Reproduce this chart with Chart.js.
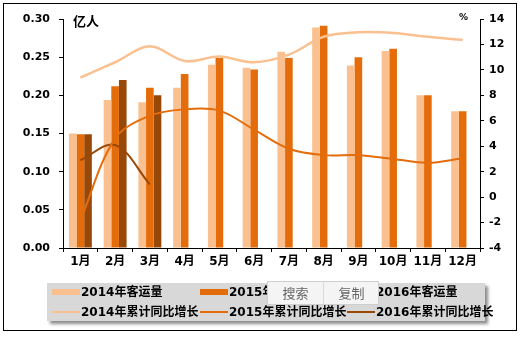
<!DOCTYPE html>
<html>
<head>
<meta charset="utf-8">
<script src="https://cdn.jsdelivr.net/npm/chart.js@4"></script>
<style>
  body { margin: 0; background: #fff; }
  #wrap { position: relative; width: 522px; height: 339px; }
  .legend { position: absolute; left: 47px; top: 283px; width: 438px; height: 38px;
            background: #d8d8d8; box-shadow: 3px 3px 3px rgba(0,0,0,0.45); }
  .item { position: absolute; height: 18px; font: bold 12px 'DejaVu Sans', 'Noto Sans CJK SC', sans-serif;
          color: #000; white-space: nowrap; line-height: 18px; }
  .item span.sw { position: absolute; left: 0; top: 50%; width: 28px; }
  .item span.tx { position: absolute; left: 29px; top: 0; }
  .popup { position: absolute; left: 267px; top: 281px; width: 110px; height: 22px;
           background: #f4f4f4; border: 1px solid #cfcfcf; font: 13px 'Noto Sans CJK SC', sans-serif; color: #666; }
  .popup div { position: absolute; top: 0; height: 22px; line-height: 22px; text-align: center; width: 55px; }
</style>
</head>
<body>
<div id="wrap">
  <canvas id="c" width="522" height="339"></canvas>
  <div class="legend" id="legend"></div>
  <div class="popup">
    <div style="left:0">搜索</div>
    <div style="left:55px;border-left:1px solid #d8d8d8">复制</div>
  </div>
</div>
<script>
const months = ['1月', '2月', '3月', '4月', '5月', '6月', '7月', '8月', '9月', '10月', '11月', '12月'];

// passenger volume, 100 million people (left axis)
const pax2014 = [0.150, 0.194, 0.191, 0.210, 0.240, 0.236, 0.257, 0.289, 0.239, 0.258, 0.200, 0.179];
const pax2015 = [0.149, 0.212, 0.210, 0.228, 0.249, 0.234, 0.249, 0.291, 0.250, 0.261, 0.200, 0.179];
const pax2016 = [0.149, 0.220, 0.200, null, null, null, null, null, null, null, null, null];

// cumulative YoY growth, % (right axis)
const growth2014 = [9.4, 10.6, 11.85, 10.7, 11.05, 10.6, 11.2, 12.6, 12.95, 12.9, 12.6, 12.35];
const growth2015 = [-1.8, 4.6, 6.4, 6.9, 6.8, 5.3, 3.8, 3.3, 3.3, 3.0, 2.7, 3.05];
const growth2016 = [2.9, 4.1, 1.0, null, null, null, null, null, null, null, null, null];

const LIGHT = '#FAC090', ORANGE = '#E46C0A', BROWN = '#984807';
const FONT = "'DejaVu Sans', 'Noto Sans CJK SC', sans-serif";

function bar(label, data, color) {
  return { type: 'bar', label: label, data: data, backgroundColor: color, yAxisID: 'y',
           categoryPercentage: 0.66, barPercentage: 1.0, order: 1 };
}
function line(label, data, color, w) {
  return { type: 'line', label: label, data: data, borderColor: color, backgroundColor: color,
           borderWidth: w, pointRadius: 0, tension: 0.35, yAxisID: 'y1', order: 0, fill: false };
}

const datasets = [
  bar('2014年客运量', pax2014, LIGHT),
  bar('2015年客运量', pax2015, ORANGE),
  bar('2016年客运量', pax2016, BROWN),
  line('2014年累计同比增长', growth2014, LIGHT, 2.5),
  line('2015年累计同比增长', growth2015, ORANGE, 2),
  line('2016年累计同比增长', growth2016, BROWN, 2)
];

const frame = {
  id: 'frame',
  afterDraw(chart) {
    const ctx = chart.ctx;
    ctx.save();
    ctx.strokeStyle = '#000';
    ctx.lineWidth = 1;
    ctx.strokeRect(3.5, 3.5, 513, 327);
    ctx.fillStyle = '#000';
    ctx.font = "bold 13px 'Noto Sans CJK SC', sans-serif";
    ctx.textBaseline = 'middle';
    ctx.fillText('亿人', 73, 21);
    ctx.font = "bold 9px " + FONT;
    ctx.fillText('%', 459, 18);
    ctx.restore();
  }
};

new Chart(document.getElementById('c'), {
  data: { labels: months, datasets: datasets },
  plugins: [frame],
  options: {
    responsive: false,
    animation: false,
    layout: { padding: { top: 19, left: 0, right: 0, bottom: 0 } },
    plugins: { legend: { display: false }, tooltip: { enabled: false } },
    scales: {
      x: {
        afterFit: s => { s.height = 91; },
        grid: { offset: true, drawOnChartArea: false, tickLength: 4, color: '#000' },
        border: { color: '#000' },
        ticks: { color: '#000', padding: 3, font: { family: FONT, size: 12, weight: 'bold' } }
      },
      y: {
        position: 'left', min: 0, max: 0.3,
        afterFit: s => { s.width = 63; },
        grid: { drawOnChartArea: false, tickLength: 4, color: '#000' },
        border: { color: '#000' },
        ticks: { stepSize: 0.05, color: '#000', padding: 9, callback: v => v.toFixed(2),
                 font: { family: FONT, size: 11, weight: 'bold' } }
      },
      y1: {
        position: 'right', min: -4, max: 14,
        afterFit: s => { s.width = 42; },
        grid: { drawOnChartArea: false, tickLength: 4, color: '#000' },
        border: { color: '#000' },
        ticks: { stepSize: 2, color: '#000', padding: 5,
                 font: { family: FONT, size: 11, weight: 'bold' } }
      }
    }
  }
});

// custom legend laid out like the original (3 columns x 2 rows)
const cols = [5, 153, 300];
const legend = document.getElementById('legend');
datasets.forEach((d, i) => {
  const row = i < 3 ? 0 : 1, col = i % 3;
  const item = document.createElement('div');
  item.className = 'item';
  item.style.left = cols[col] + 'px';
  item.style.top = (row === 0 ? 0 : 20) + 'px';
  const h = d.type === 'bar' ? 6 : 2;
  item.innerHTML = '<span class="sw" style="height:' + h + 'px;margin-top:' + (-h / 2) +
    'px;background:' + d.backgroundColor + '"></span><span class="tx">' + d.label + '</span>';
  legend.appendChild(item);
});
</script>
</body>
</html>
